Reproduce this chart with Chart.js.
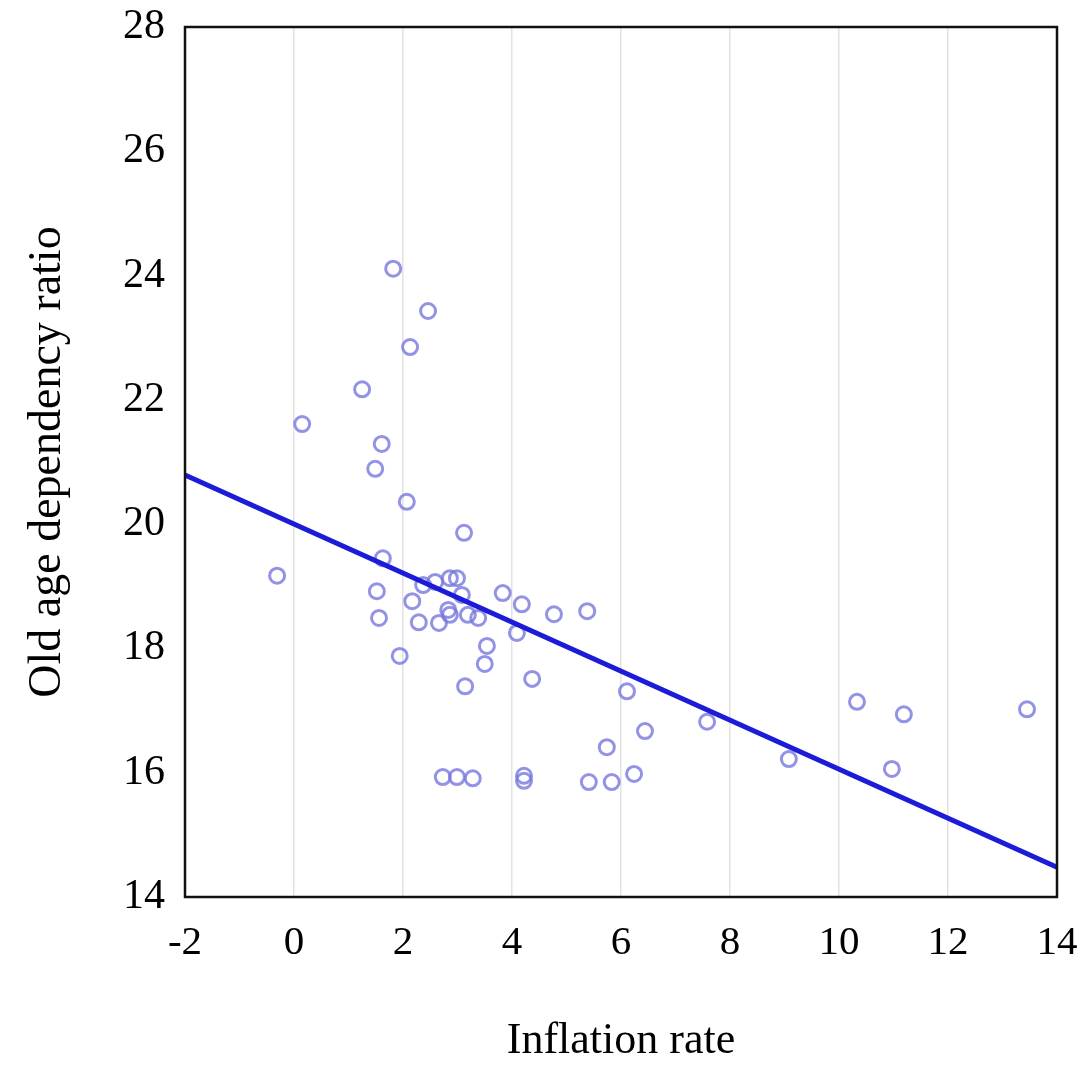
<!DOCTYPE html>
<html>
<head>
<meta charset="utf-8">
<script src="https://cdn.jsdelivr.net/npm/chart.js@4.4.0/dist/chart.umd.min.js"></script>
<style>
  html, body { margin: 0; padding: 0; background: #ffffff; }
  #wrap { width: 1081px; height: 1068px; }
</style>
</head>
<body>
<div id="wrap"><canvas id="c" width="1081" height="1068"></canvas></div>
<script>
// Inflation rate (x) and old age dependency ratio (y) for each observation
const inflation = [
  1.82, 2.46, 2.13, 1.25, 0.15, 1.61, 1.49, 2.07, 3.12, 1.63,
  -0.31, 1.52, 2.17, 1.56, 2.29, 1.94, 3.14, 2.37, 2.59, 2.86,
  2.99, 3.08, 2.83, 2.86, 2.66, 3.19, 3.38, 3.83, 4.18, 4.09,
  4.77, 5.38, 3.54, 3.50, 4.37, 6.11, 6.44, 5.74, 6.24, 2.73,
  2.99, 3.28, 4.22, 4.22, 5.41, 5.83, 7.58, 9.08, 10.33, 11.19,
  10.97, 13.45
];
const dependency = [
  24.11, 23.43, 22.85, 22.17, 21.61, 21.29, 20.89, 20.36, 19.86, 19.45,
  19.17, 18.92, 18.76, 18.49, 18.42, 17.88, 17.39, 19.02, 19.07, 19.13,
  19.13, 18.86, 18.62, 18.54, 18.41, 18.54, 18.49, 18.89, 18.71, 18.25,
  18.55, 18.60, 18.04, 17.75, 17.51, 17.31, 16.67, 16.41, 15.98, 15.93,
  15.93, 15.91, 15.95, 15.87, 15.85, 15.85, 16.82, 16.22, 17.14, 16.94,
  16.06, 17.02
];
// Fitted trend line end points
const trendX = [-2, 14];
const trendY = [20.79, 14.48];
// Axis ticks
const xTicks = [-2, 0, 2, 4, 6, 8, 10, 12, 14];
const yTicks = [14, 16, 18, 20, 22, 24, 26, 28];

const scatterData = inflation.map((x, i) => ({ x: x, y: dependency[i] }));
const trendData = trendX.map((x, i) => ({ x: x, y: trendY[i] }));

const FONT = "'Liberation Serif', 'DejaVu Serif', serif";

const framePlugin = {
  id: 'frame',
  afterDatasetsDraw(chart) {
    const a = chart.chartArea, ctx = chart.ctx;
    ctx.save();
    ctx.strokeStyle = '#111111';
    ctx.lineWidth = 2.5;
    ctx.strokeRect(a.left, a.top, a.right - a.left, a.bottom - a.top);
    ctx.restore();
  }
};

new Chart(document.getElementById('c'), {
  type: 'scatter',
  data: {
    datasets: [
      {
        type: 'line',
        data: trendData,
        borderColor: '#1c1cd8',
        borderWidth: 5,
        pointRadius: 0,
        fill: false,
        order: 1
      },
      {
        type: 'scatter',
        data: scatterData,
        backgroundColor: 'rgba(0,0,0,0)',
        borderColor: 'rgba(120,120,222,0.8)',
        borderWidth: 3,
        pointRadius: 7.5,
        pointHoverRadius: 7.5,
        order: 2
      }
    ]
  },
  options: {
    responsive: false,
    animation: false,
    devicePixelRatio: 1,
    layout: { padding: { top: 27, right: 24, left: 0, bottom: 0 } },
    plugins: {
      legend: { display: false },
      tooltip: { enabled: false }
    },
    scales: {
      x: {
        type: 'linear',
        min: -2,
        max: 14,
        afterBuildTicks(scale) { scale.ticks = xTicks.map(v => ({ value: v })); },
        afterFit(scale) { scale.height = 171; scale.paddingLeft = 0; scale.paddingRight = 0; },
        grid: { display: true, color: '#e2e2e2', lineWidth: 1.5, drawTicks: false },
        border: { display: false },
        ticks: {
          color: '#000000',
          padding: 22,
          maxRotation: 0,
          font: { family: FONT, size: 41 }
        },
        title: {
          display: true,
          text: 'Inflation rate',
          color: '#000000',
          font: { family: FONT, size: 44 },
          padding: { top: 51, bottom: 0 }
        }
      },
      y: {
        type: 'linear',
        min: 14,
        max: 28,
        afterBuildTicks(scale) { scale.ticks = yTicks.map(v => ({ value: v })); },
        afterFit(scale) { scale.width = 185; scale.paddingTop = 0; scale.paddingBottom = 0; },
        grid: { display: false, drawTicks: false },
        border: { display: false },
        ticks: {
          color: '#000000',
          padding: 20,
          font: { family: FONT, size: 42 }
        },
        title: {
          display: true,
          text: 'Old age dependency ratio',
          color: '#000000',
          font: { family: FONT, size: 46 },
          padding: { top: 20, bottom: 14 }
        }
      }
    }
  },
  plugins: [framePlugin]
});
</script>
</body>
</html>
